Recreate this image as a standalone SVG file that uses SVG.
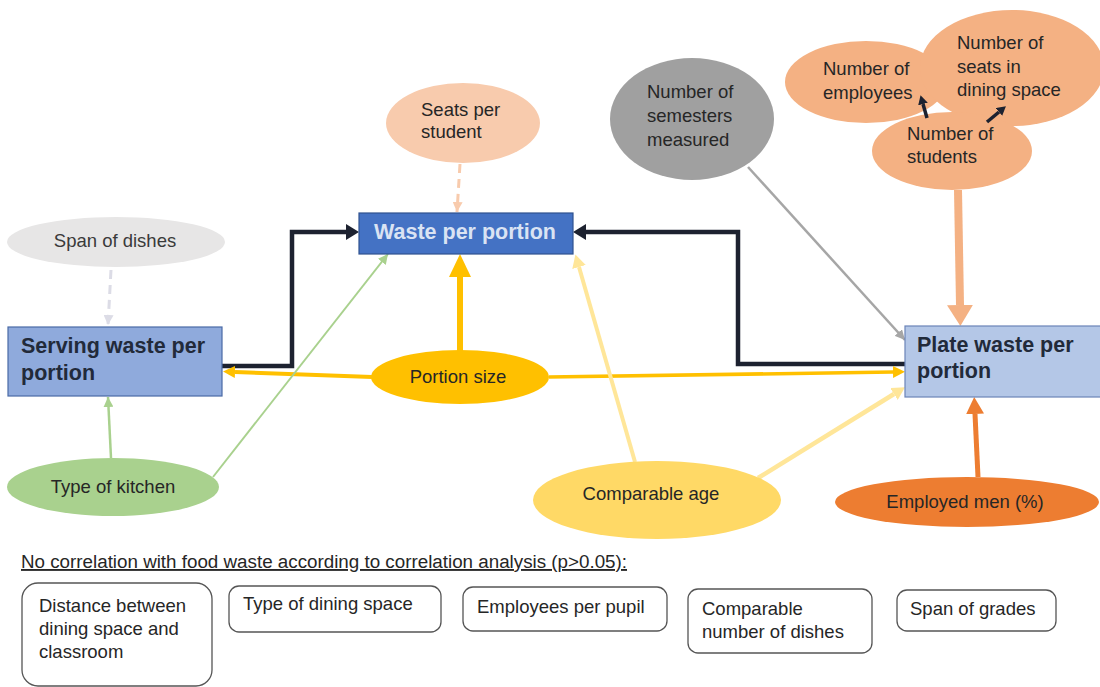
<svg xmlns="http://www.w3.org/2000/svg" width="1100" height="687" viewBox="0 0 1100 687">
  <style>
    text { font-family: "Liberation Sans", Arial, sans-serif; fill: #262626; font-size: 18.5px; }
    .title { font-weight: bold; font-size: 21.5px; fill: #222a3a; }
    .title-light { font-weight: bold; font-size: 21.5px; fill: #dae3f3; }
    .mid { text-anchor: middle; }
    .note { fill: #ffffff; stroke: #555555; stroke-width: 1.3; }
    .conn { fill: none; }
  </style>
  <defs>
    <!-- arrowheads: base at refX=0 for thick shafts, tip at refX for thin ones -->
    <marker id="ah-black" markerUnits="userSpaceOnUse" markerWidth="14" markerHeight="16" refX="0" refY="8" orient="auto">
      <path d="M0,0 L13,8 L0,16 z" fill="#1d2230"/>
    </marker>
    <marker id="ah-black-small" markerUnits="userSpaceOnUse" markerWidth="10" markerHeight="10" refX="0" refY="5" orient="auto">
      <path d="M0,0 L9,5 L0,10 z" fill="#1d2230"/>
    </marker>
    <marker id="ah-gold-big" markerUnits="userSpaceOnUse" markerWidth="24" markerHeight="22" refX="0" refY="11" orient="auto">
      <path d="M0,0 L23,11 L0,22 z" fill="#ffc000"/>
    </marker>
    <marker id="ah-gold" markerUnits="userSpaceOnUse" markerWidth="12" markerHeight="12" refX="0" refY="6" orient="auto">
      <path d="M0,0 L12,6 L0,12 z" fill="#ffc000"/>
    </marker>
    <marker id="ah-paleyellow" markerUnits="userSpaceOnUse" markerWidth="14" markerHeight="14" refX="0" refY="7" orient="auto">
      <path d="M0,0 L13,7 L0,14 z" fill="#ffe699"/>
    </marker>
    <marker id="ah-green" markerUnits="userSpaceOnUse" markerWidth="11" markerHeight="10" refX="10" refY="5" orient="auto">
      <path d="M0,0 L10,5 L0,10 z" fill="#a9d18e"/>
    </marker>
    <marker id="ah-grey" markerUnits="userSpaceOnUse" markerWidth="11" markerHeight="10" refX="10" refY="5" orient="auto">
      <path d="M0,0 L10,5 L0,10 z" fill="#a6a6a6"/>
    </marker>
    <marker id="ah-lightgrey" markerUnits="userSpaceOnUse" markerWidth="11" markerHeight="10" refX="10" refY="5" orient="auto">
      <path d="M0,0 L10,5 L0,10 z" fill="#dcdce6"/>
    </marker>
    <marker id="ah-peach-light" markerUnits="userSpaceOnUse" markerWidth="11" markerHeight="10" refX="10" refY="5" orient="auto">
      <path d="M0,0 L10,5 L0,10 z" fill="#f8cbad"/>
    </marker>
    <marker id="ah-peach-big" markerUnits="userSpaceOnUse" markerWidth="22" markerHeight="26" refX="0" refY="13" orient="auto">
      <path d="M0,0 L21,13 L0,26 z" fill="#f4b183"/>
    </marker>
    <marker id="ah-orange" markerUnits="userSpaceOnUse" markerWidth="18" markerHeight="18" refX="0" refY="9" orient="auto">
      <path d="M0,0 L17,9 L0,18 z" fill="#ed7d31"/>
    </marker>
  </defs>

  <rect width="1100" height="687" fill="#ffffff"/>

  <!-- connectors -->
  <g id="connectors" class="conn">
    <path d="M222,366 H292 V232 H346" stroke="#1d2230" stroke-width="4.5" marker-end="url(#ah-black)"/>
    <path d="M905,364 H738 V232 H586" stroke="#1d2230" stroke-width="4.5" marker-end="url(#ah-black)"/>
    <path d="M460,352 V277" stroke="#ffc000" stroke-width="6" marker-end="url(#ah-gold-big)"/>
    <path d="M372,377 L235,372" stroke="#ffc000" stroke-width="4" marker-end="url(#ah-gold)"/>
    <path d="M549,377 L893,372" stroke="#ffc000" stroke-width="3.5" marker-end="url(#ah-gold)"/>
    <path d="M111,270 L108,325" stroke="#dcdce6" stroke-width="3" stroke-dasharray="9 6" marker-end="url(#ah-lightgrey)"/>
    <path d="M460,164 L457,212" stroke="#f8cbad" stroke-width="3" stroke-dasharray="9 6" marker-end="url(#ah-peach-light)"/>
    <path d="M111,458 L108,397" stroke="#a9d18e" stroke-width="2.5" marker-end="url(#ah-green)"/>
    <path d="M213,477 L388,254" stroke="#a9d18e" stroke-width="2" marker-end="url(#ah-green)"/>
    <path d="M635,462 L579,267" stroke="#ffe699" stroke-width="4" marker-end="url(#ah-paleyellow)"/>
    <path d="M758,478 L894,394" stroke="#ffe699" stroke-width="4.5" marker-end="url(#ah-paleyellow)"/>
    <path d="M748,167 L905,340" stroke="#a6a6a6" stroke-width="2.5" marker-end="url(#ah-grey)"/>
    <path d="M958,190 L960,305" stroke="#f4b183" stroke-width="8" marker-end="url(#ah-peach-big)"/>
    <path d="M978,477 L975,414" stroke="#ed7d31" stroke-width="5" marker-end="url(#ah-orange)"/>
  </g>

  <!-- outcome boxes -->
  <g id="waste-per-portion">
    <rect x="359" y="213" width="214" height="41" fill="#4472c4" stroke="#2f528f" stroke-width="1.2"/>
    <text class="title-light mid" x="465" y="239">Waste per portion</text>
  </g>
  <g id="serving-waste">
    <rect x="8" y="327" width="214" height="69" fill="#8faadc" stroke="#4a6aa6" stroke-width="1.2"/>
    <text class="title" x="21" y="353">Serving waste per</text>
    <text class="title" x="21" y="380">portion</text>
  </g>
  <g id="plate-waste">
    <rect x="905" y="326" width="197" height="71" fill="#b4c7e7" stroke="#6b84b8" stroke-width="1.2"/>
    <text class="title" x="917" y="352">Plate waste per</text>
    <text class="title" x="917" y="378">portion</text>
  </g>

  <!-- factor nodes -->
  <g id="span-of-dishes">
    <ellipse cx="116" cy="242" rx="109" ry="25" fill="#e7e6e6"/>
    <text class="mid" x="115" y="247" style="fill:#3a3a3a">Span of dishes</text>
  </g>
  <g id="seats-per-student">
    <ellipse cx="463" cy="123" rx="77" ry="40" fill="#f8cbad"/>
    <text x="421" y="116">Seats per</text>
    <text x="421" y="138">student</text>
  </g>
  <g id="semesters-measured">
    <ellipse cx="692" cy="119" rx="82" ry="61" fill="#a0a0a0"/>
    <text x="647" y="98">Number of</text>
    <text x="647" y="122">semesters</text>
    <text x="647" y="146">measured</text>
  </g>
  <g id="school-size">
    <ellipse cx="866" cy="82" rx="81" ry="41" fill="#f4b183"/>
    <ellipse cx="1012" cy="68" rx="92" ry="58" fill="#f4b183"/>
    <ellipse cx="952" cy="151" rx="80" ry="39" fill="#f4b183"/>
    <text x="823" y="75">Number of</text>
    <text x="823" y="99">employees</text>
    <text x="957" y="49">Number of</text>
    <text x="957" y="73">seats in</text>
    <text x="957" y="96">dining space</text>
    <text x="907" y="140">Number of</text>
    <text x="907" y="163">students</text>
    <path d="M927,118 L923,104" stroke="#1d2230" stroke-width="3.5" marker-end="url(#ah-black-small)"/>
    <path d="M987,122 L999,112" stroke="#1d2230" stroke-width="3.5" marker-end="url(#ah-black-small)"/>
  </g>
  <g id="portion-size">
    <ellipse cx="460" cy="377" rx="89" ry="27" fill="#ffc000"/>
    <text class="mid" x="458" y="383">Portion size</text>
  </g>
  <g id="type-of-kitchen">
    <ellipse cx="113" cy="487" rx="106" ry="29" fill="#a9d18e"/>
    <text class="mid" x="113" y="493">Type of kitchen</text>
  </g>
  <g id="comparable-age">
    <ellipse cx="657" cy="500" rx="124" ry="39" fill="#ffd966"/>
    <text class="mid" x="651" y="500">Comparable age</text>
  </g>
  <g id="employed-men">
    <ellipse cx="967" cy="502" rx="132" ry="25" fill="#ed7d31"/>
    <text class="mid" x="965" y="508">Employed men (%)</text>
  </g>

  <!-- factors without correlation -->
  <g id="no-correlation-heading">
    <text x="21" y="568" style="font-size:18.8px" text-decoration="underline">No correlation with food waste according to correlation analysis (p&gt;0.05):</text>
  </g>
  <g id="distance-dining-classroom">
    <rect class="note" x="22" y="583" width="190" height="103" rx="16"/>
    <text x="39" y="612">Distance between</text>
    <text x="39" y="635">dining space and</text>
    <text x="39" y="658">classroom</text>
  </g>
  <g id="type-of-dining-space">
    <rect class="note" x="229" y="586" width="212" height="46" rx="10"/>
    <text x="243" y="610">Type of dining space</text>
  </g>
  <g id="employees-per-pupil">
    <rect class="note" x="463" y="587" width="204" height="44" rx="10"/>
    <text x="477" y="613">Employees per pupil</text>
  </g>
  <g id="comparable-number-of-dishes">
    <rect class="note" x="688" y="589" width="184" height="64" rx="10"/>
    <text x="702" y="615">Comparable</text>
    <text x="702" y="638">number of dishes</text>
  </g>
  <g id="span-of-grades">
    <rect class="note" x="897" y="590" width="159" height="41" rx="10"/>
    <text x="910" y="615">Span of grades</text>
  </g>
</svg>
